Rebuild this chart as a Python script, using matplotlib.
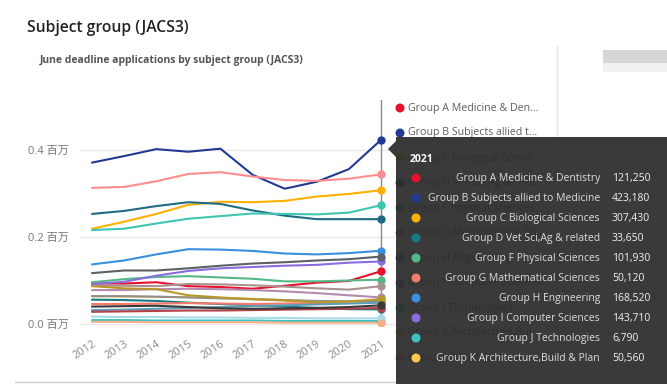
import matplotlib.pyplot as plt
from matplotlib.patches import Rectangle, Polygon, Circle

# =========================
# DATA
# =========================

years = [2012, 2013, 2014, 2015, 2016, 2017, 2018, 2019, 2020, 2021]

group_names = [
    "Group A Medicine & Dentistry",
    "Group B Subjects allied to Medicine",
    "Group C Biological Sciences",
    "Group D Vet Sci,Ag & related",
    "Group F Physical Sciences",
    "Group G Mathematical Sciences",
    "Group H Engineering",
    "Group I Computer Sciences",
    "Group J Technologies",
    "Group K Architecture,Build & Plan",
]

# applications in millions
group_a = [0.093, 0.093, 0.096, 0.087, 0.085, 0.081, 0.088, 0.095, 0.099, 0.12125]
group_b = [0.371, 0.386, 0.402, 0.396, 0.403, 0.343, 0.311, 0.327, 0.356, 0.42318]
group_c = [0.219, 0.235, 0.253, 0.274, 0.281, 0.280, 0.283, 0.293, 0.299, 0.30743]
group_d = [0.056, 0.055, 0.053, 0.049, 0.046, 0.043, 0.040, 0.037, 0.034, 0.03365]
group_f = [0.096, 0.103, 0.108, 0.110, 0.107, 0.104, 0.098, 0.098, 0.100, 0.10193]
group_g = [0.046, 0.046, 0.047, 0.048, 0.047, 0.046, 0.047, 0.048, 0.049, 0.05012]
group_h = [0.137, 0.146, 0.160, 0.172, 0.171, 0.168, 0.162, 0.160, 0.163, 0.16852]
group_i = [0.092, 0.097, 0.111, 0.122, 0.128, 0.131, 0.134, 0.136, 0.141, 0.14371]
group_j = [0.009, 0.009, 0.008, 0.008, 0.008, 0.008, 0.007, 0.007, 0.007, 0.00679]
group_k = [0.064, 0.063, 0.062, 0.062, 0.060, 0.058, 0.055, 0.052, 0.050, 0.05056]
group_l = [0.313, 0.315, 0.328, 0.345, 0.349, 0.339, 0.331, 0.329, 0.334, 0.344]
group_m = [0.117, 0.123, 0.123, 0.128, 0.134, 0.139, 0.142, 0.146, 0.149, 0.155]
group_n = [0.253, 0.260, 0.271, 0.280, 0.276, 0.261, 0.249, 0.241, 0.241, 0.241]
group_p = [0.064, 0.064, 0.063, 0.061, 0.059, 0.057, 0.055, 0.053, 0.052, 0.053]
group_q = [0.078, 0.078, 0.080, 0.081, 0.080, 0.078, 0.075, 0.071, 0.066, 0.061]
group_r = [0.032, 0.033, 0.035, 0.037, 0.039, 0.041, 0.043, 0.045, 0.047, 0.049]
group_t = [0.017, 0.016, 0.016, 0.015, 0.015, 0.014, 0.014, 0.013, 0.013, 0.013]
group_v = [0.088, 0.088, 0.087, 0.092, 0.091, 0.089, 0.086, 0.082, 0.079, 0.087]
group_w = [0.216, 0.219, 0.231, 0.242, 0.248, 0.254, 0.253, 0.252, 0.256, 0.273]
group_x = [0.087, 0.082, 0.080, 0.066, 0.061, 0.057, 0.054, 0.050, 0.052, 0.057]
group_y = [0.028, 0.029, 0.030, 0.031, 0.031, 0.032, 0.033, 0.034, 0.035, 0.037]
group_z = [0.040, 0.041, 0.042, 0.039, 0.036, 0.035, 0.036, 0.037, 0.039, 0.043]
group_etc = [0.005, 0.005, 0.004, 0.004, 0.004, 0.004, 0.003, 0.003, 0.003, 0.003]

series = [group_a, group_b, group_c, group_d, group_f, group_g, group_h, group_i,
          group_j, group_k, group_l, group_m, group_n, group_p, group_q, group_r,
          group_t, group_v, group_w, group_x, group_y, group_z, group_etc]

colors = ["#E8112D", "#233A93", "#FFB000", "#167A85", "#55B888", "#F47A6A",
          "#3A8FE0", "#8A6CDF", "#3CC4C4", "#FFC94D", "#FF8C8E", "#5B6166",
          "#1F6B84", "#8E8E8E", "#B48AAE", "#5E9DB8", "#A9DCEA", "#A89290",
          "#40C5B2", "#B9982A", "#B5404A", "#3A3A3A", "#F7B08A"]

tooltip_values = ["121,250", "423,180", "307,430", "33,650", "101,930", "50,120",
                  "168,520", "143,710", "6,790", "50,560"]

legend_labels = ["Group A Medicine & Den...", "Group B Subjects allied t...",
                 "Group C Biological Scienc...", "Group D Vet Sci,Ag & relat...",
                 "Group F Physical Sciences", "Group G Mathematical Sci...",
                 "Group H Engineering", "Group I Computer Sciences",
                 "Group J Technologies", "Group K Architecture,Bui...",
                 "Group L Social Studies"]

# =========================
# FIGURE
# =========================

plt.rcParams['font.family'] = ['Open Sans', 'Noto Sans CJK SC', 'DejaVu Sans']

W, H = 667, 384
fig = plt.figure(figsize=(W / 100, H / 100), dpi=100)

# plot area in pixels: x 80..395, y 100..326
x0, x1, ytop, ybot = 80, 395, 100, 326
ax = fig.add_axes([x0 / W, 1 - ybot / H, (x1 - x0) / W, (ybot - ytop) / H])
px_per_year = (381 - 92) / 9
ax.set_xlim(2012 - (92 - x0) / px_per_year, 2021 + (x1 - 381) / px_per_year)
px_per_unit = 435.0
ax.set_ylim(-(ybot - 324) / px_per_unit, (324 - ytop) / px_per_unit)

for vals, col in zip(series, colors):
    ax.plot(years, vals, color=col, lw=1.5, solid_capstyle="round")
    ax.plot([years[-1]], [vals[-1]], "o", color=col, ms=5, zorder=4)

ax.axvline(2021, color="#8A8A8A", lw=1, zorder=3)

ax.set_yticks([0, 0.2, 0.4])
ax.set_yticklabels(["0.0 百万", "0.2 百万", "0.4 百万"], color="#777777", fontsize=8)
ax.set_xticks(years)
ax.set_xticklabels([str(y) for y in years], rotation=33, ha="right",
                   rotation_mode="anchor", color="#8A8A8A", fontsize=8)
ax.tick_params(length=0)
ax.tick_params(axis="x", pad=9)
ax.tick_params(axis="y", pad=8)
ax.grid(axis="y", color="#E9E9E9", lw=1)
ax.set_axisbelow(True)
for s in ax.spines.values():
    s.set_visible(False)

# =========================
# OVERLAY (titles, legend, tooltip)
# =========================

ov = fig.add_axes([0, 0, 1, 1], zorder=10)
ov.set_xlim(0, W)
ov.set_ylim(H, 0)
ov.axis("off")
ov.patch.set_alpha(0)

ov.text(27, 28, "Subject group (JACS3)", fontsize=11.3, color="#252423",
        va="center", ha="left", fontweight="semibold")
ov.text(40, 60, "June deadline applications by subject group (JACS3)",
        fontsize=7.5, color="#555555", va="center", ha="left", fontweight="bold")

# right-hand separator and blurred corner
ov.plot([557, 557], [46, 384], color="#E3E3E3", lw=1, zorder=1)
ov.add_patch(Rectangle((603, 50), 64, 13, color="#D6D6D6", lw=0))
ov.add_patch(Rectangle((603, 63), 64, 9, color="#F1F1F1", lw=0))
ov.plot([15, 395], [382, 382], color="#CFCFCF", lw=1)

# legend (mostly hidden behind the tooltip)
for i, lab in enumerate(legend_labels):
    y = 108 + 25 * i
    ov.add_patch(Circle((400, y), 4.5, color=colors[i], lw=0, zorder=2))
    ov.text(408, y, lab, fontsize=7.7, color="#605E5C", va="center", ha="left",
            zorder=2)

# tooltip drawn over the legend
ov.add_patch(Rectangle((396, 137), W - 396, H - 137, facecolor="#2B2B2B",
                       alpha=0.93, lw=0, zorder=5))
ov.add_patch(Polygon([(388, 149), (396, 141), (396, 157)], closed=True,
                     facecolor="#2B2B2B", alpha=0.93, lw=0, zorder=5))
ov.text(410, 159, "2021", fontsize=7.5, color="white", fontweight="bold",
        va="center", ha="left", zorder=6)
for i, val in enumerate(tooltip_values):
    y = 178 + 20 * i
    ov.add_patch(Circle((416, y), 4.5, color=colors[i], lw=0, zorder=6))
    ov.text(600, y, group_names[i], fontsize=7.5, color="#DDDDDD",
            va="center", ha="right", zorder=6)
    ov.text(612, y, val, fontsize=7.5, color="#F2F2F2", va="center", ha="left",
            zorder=6)

fig.savefig("out.png", dpi=100)
